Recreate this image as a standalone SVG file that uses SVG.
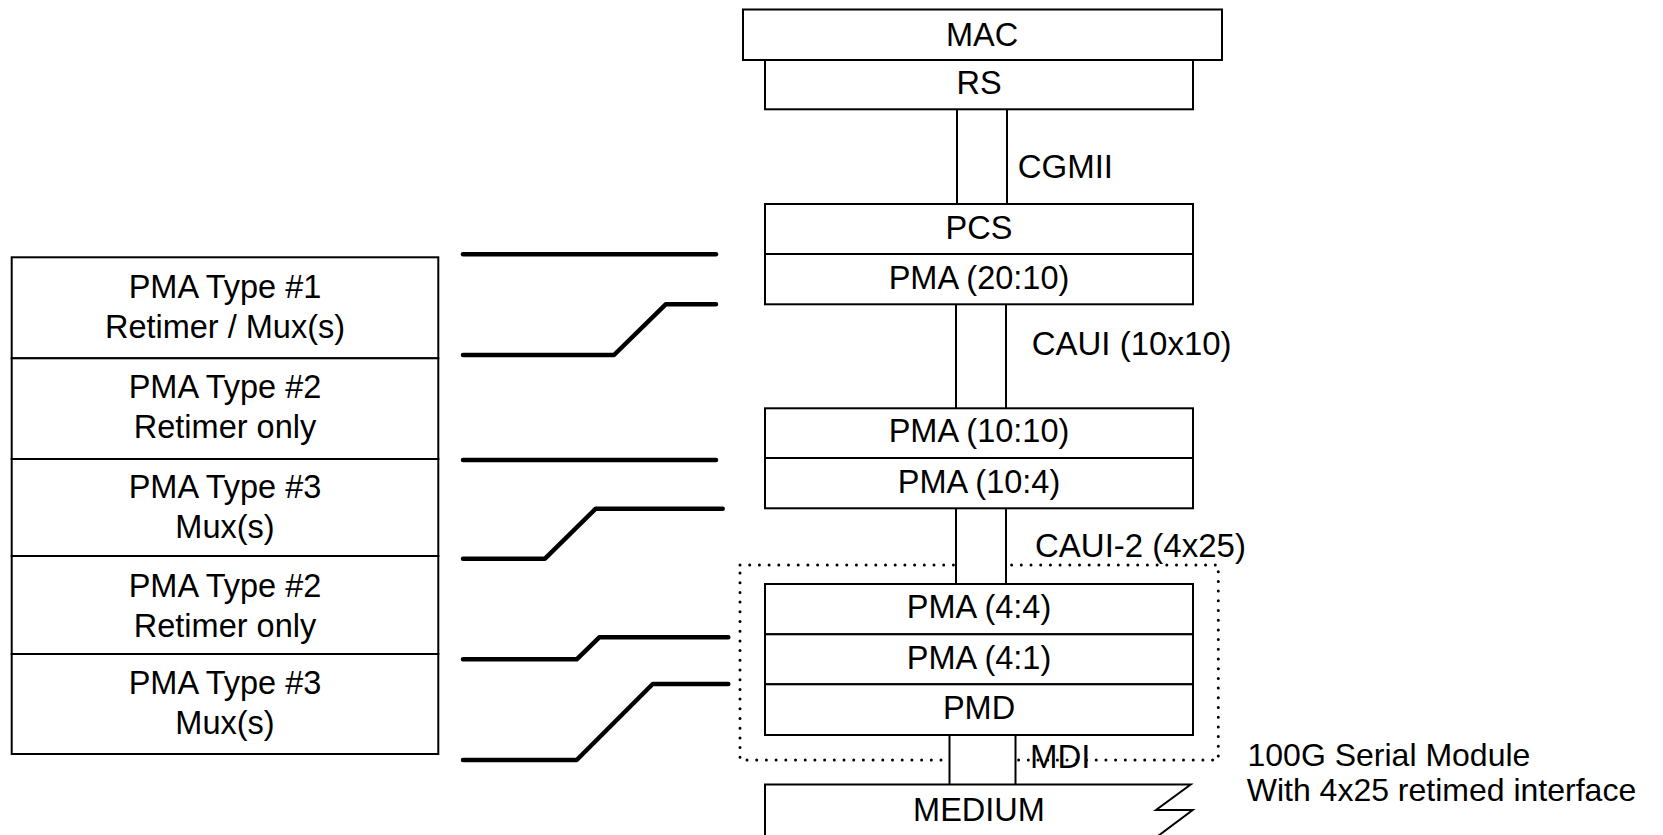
<svg xmlns="http://www.w3.org/2000/svg" width="1663" height="835" viewBox="0 0 1663 835">
<style>
  .box { fill: #ffffff; stroke: #000000; stroke-width: 2; }
  .t { font-family: "Liberation Sans", Arial, sans-serif; font-size: 32.5px; fill: #000000; text-anchor: middle; }
  .lbl { font-family: "Liberation Sans", Arial, sans-serif; font-size: 33px; fill: #000000; }
  .note { font-family: "Liberation Sans", Arial, sans-serif; font-size: 32px; fill: #000000; }
  .thin { fill: none; stroke: #000000; stroke-width: 2; }
  .thick { fill: none; stroke: #000000; stroke-width: 4.5; stroke-linecap: round; stroke-linejoin: round; }
  .dots { fill: none; stroke: #000000; stroke-width: 3; stroke-linecap: round; stroke-dasharray: 0 9.7; }
  .gap { fill: #ffffff; stroke: none; }
</style>
<rect width="1663" height="835" fill="#ffffff"/>

<g id="module-boundary">
  <rect class="dots" x="740" y="565" width="478.3" height="195"/>
</g>

<g id="connectors">
  <g id="cgmii">
    <rect class="gap" x="957" y="109" width="50" height="95"/>
    <line class="thin" x1="957" y1="109" x2="957" y2="204"/>
    <line class="thin" x1="1007" y1="109" x2="1007" y2="204"/>
  </g>
  <g id="caui">
    <rect class="gap" x="956" y="304" width="50" height="104"/>
    <line class="thin" x1="956" y1="304" x2="956" y2="408"/>
    <line class="thin" x1="1006" y1="304" x2="1006" y2="408"/>
  </g>
  <g id="caui2">
    <rect class="gap" x="956" y="508" width="50" height="76"/>
    <line class="thin" x1="956" y1="508" x2="956" y2="584"/>
    <line class="thin" x1="1006" y1="508" x2="1006" y2="584"/>
  </g>
  <g id="mdi">
    <rect class="gap" x="949.5" y="735" width="66" height="49.5"/>
    <line class="thin" x1="949.5" y1="735" x2="949.5" y2="784.5"/>
    <line class="thin" x1="1015.5" y1="735" x2="1015.5" y2="784.5"/>
  </g>
  <polyline class="thick" points="463,254.3 716,254.3"/>
  <polyline class="thick" points="463,355 614,355 665.7,304.3 716,304.3"/>
  <polyline class="thick" points="463,460 716,460"/>
  <polyline class="thick" points="463,558.7 545,558.7 595.7,508.7 722.7,508.7"/>
  <polyline class="thick" points="463,659.3 576.7,659.3 599.3,637.3 728.3,637.3"/>
  <polyline class="thick" points="463,760 576.7,760 652.7,684 728.3,684"/>
</g>

<g id="mac">
  <rect class="box" x="743" y="9.5" width="479" height="50.5"/>
  <text class="t" x="982" y="45.5">MAC</text>
</g>
<g id="rs">
  <rect class="box" x="765" y="60" width="428" height="49.3"/>
  <text class="t" x="979" y="94.3">RS</text>
</g>
<g id="pcs">
  <rect class="box" x="765" y="204" width="428" height="50"/>
  <text class="t" x="979" y="239.3">PCS</text>
</g>
<g id="pma-20-10">
  <rect class="box" x="765" y="254" width="428" height="50.3"/>
  <text class="t" x="979" y="289.3">PMA (20:10)</text>
</g>
<g id="pma-10-10">
  <rect class="box" x="765" y="408.3" width="428" height="49.7"/>
  <text class="t" x="979" y="442.3">PMA (10:10)</text>
</g>
<g id="pma-10-4">
  <rect class="box" x="765" y="458" width="428" height="50.3"/>
  <text class="t" x="979" y="493">PMA (10:4)</text>
</g>
<g id="pma-4-4">
  <rect class="box" x="765" y="584" width="428" height="50.3"/>
  <text class="t" x="979" y="617.7">PMA (4:4)</text>
</g>
<g id="pma-4-1">
  <rect class="box" x="765" y="634.3" width="428" height="50"/>
  <text class="t" x="979" y="669.3">PMA (4:1)</text>
</g>
<g id="pmd">
  <rect class="box" x="765" y="684.3" width="428" height="50.7"/>
  <text class="t" x="979" y="719.3">PMD</text>
</g>
<g id="medium">
  <path class="box" d="M765,850 L765,784.5 L1190.7,784.5 L1156,810 L1192.7,810 L1150,842 L1150,850 Z" style="stroke-linejoin:miter"/>
  <text class="t" x="979" y="820.7">MEDIUM</text>
</g>

<g id="labels">
  <text class="lbl" x="1017.7" y="178.3">CGMII</text>
  <text class="lbl" x="1031.7" y="355">CAUI (10x10)</text>
  <text class="lbl" x="1035" y="556.7">CAUI-2 (4x25)</text>
  <text class="lbl" x="1030" y="768.3">MDI</text>
  <text class="note" x="1247.5" y="766">100G Serial Module</text>
  <text class="note" x="1246.7" y="800.5">With 4x25 retimed interface</text>
</g>

<g id="pma-types">
  <g id="type1-a">
    <rect class="box" x="11.7" y="257.3" width="426.6" height="101"/>
    <text class="t" x="225" y="297.7">PMA Type #1</text>
    <text class="t" x="225" y="338.3">Retimer / Mux(s)</text>
  </g>
  <g id="type2-a">
    <rect class="box" x="11.7" y="358.3" width="426.6" height="100.7"/>
    <text class="t" x="225" y="398.3">PMA Type #2</text>
    <text class="t" x="225" y="438.3">Retimer only</text>
  </g>
  <g id="type3-a">
    <rect class="box" x="11.7" y="459" width="426.6" height="97"/>
    <text class="t" x="225" y="498.3">PMA Type #3</text>
    <text class="t" x="225" y="538.3">Mux(s)</text>
  </g>
  <g id="type2-b">
    <rect class="box" x="11.7" y="556" width="426.6" height="98"/>
    <text class="t" x="225" y="596.7">PMA Type #2</text>
    <text class="t" x="225" y="636.7">Retimer only</text>
  </g>
  <g id="type3-b">
    <rect class="box" x="11.7" y="654" width="426.6" height="100"/>
    <text class="t" x="225" y="694.3">PMA Type #3</text>
    <text class="t" x="225" y="734.3">Mux(s)</text>
  </g>
</g>
</svg>
